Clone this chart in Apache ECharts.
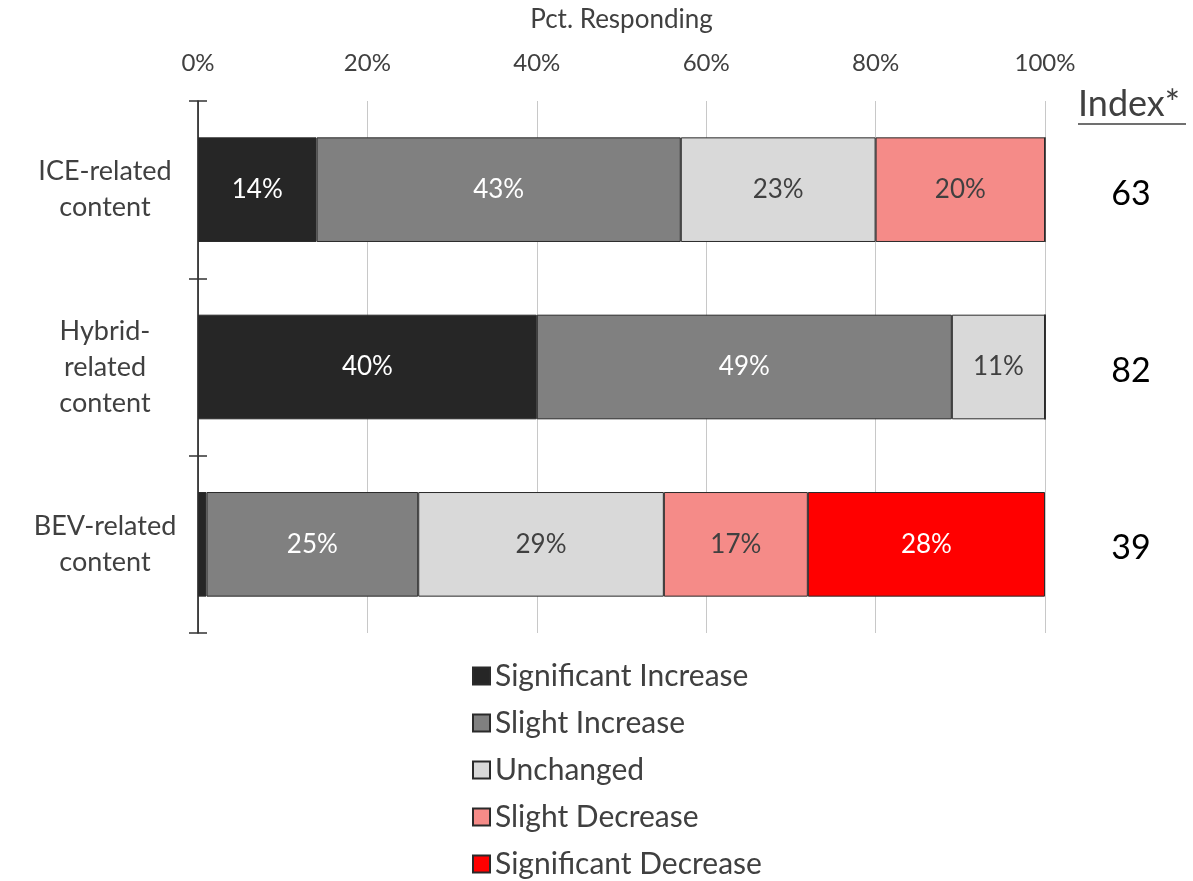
<!DOCTYPE html>
<html>
<head>
<meta charset="utf-8">
<script src="https://cdn.jsdelivr.net/npm/echarts@6/dist/echarts.min.js"></script>
<style>
  html, body { margin: 0; padding: 0; background: #fff; }
  #chart { width: 1193px; height: 881px; }
</style>
</head>
<body>
<div id="chart"></div>
<script>
// Content categories (top to bottom)
const categories = ['ICE-related\ncontent', 'Hybrid-\nrelated\ncontent', 'BEV-related\ncontent'];

// Share of respondents per answer, in percent
const significantIncrease = [14, 40, 1];
const slightIncrease      = [43, 49, 25];
const unchanged           = [23, 11, 29];
const slightDecrease      = [20, 0, 17];
const significantDecrease = [0, 0, 28];

// Index score shown to the right of each bar
const indexValues = [63, 82, 39];

// Percentage axis tick labels
const tickLabels = ['0%', '20%', '40%', '60%', '80%', '100%'];

const FONT = 'Lato';
const TEXT = '#404040';

function seg(name, values, color, labelColor) {
  return {
    name: name,
    type: 'bar',
    stack: 'total',
    barWidth: '59%',
    data: values,
    itemStyle: { color: color, borderColor: '#2a2a2a', borderWidth: 1 },
    label: {
      show: true,
      position: 'inside',
      color: labelColor,
      fontFamily: FONT,
      fontSize: 26,
      formatter: p => (p.value >= 5 ? p.value + '%' : '')
    },
    emphasis: { disabled: true }
  };
}

const chart = echarts.init(document.getElementById('chart'), null, { renderer: 'canvas' });

chart.setOption({
  animation: false,
  textStyle: { fontFamily: FONT },
  grid: { left: 198, right: 148, top: 101, bottom: 248, containLabel: false, outerBoundsMode: 'none' },
  xAxis: {
    type: 'value',
    position: 'top',
    min: 0,
    max: 100,
    interval: 20,
    name: 'Pct. Responding',
    nameLocation: 'middle',
    nameGap: 68,
    nameTextStyle: { color: TEXT, fontSize: 26, fontFamily: FONT },
    axisLine: { show: false },
    axisTick: { show: false },
    axisLabel: {
      color: TEXT, fontSize: 24, fontFamily: FONT, margin: 26,
      formatter: v => tickLabels[Math.round(v / 20)]
    },
    splitLine: { show: true, lineStyle: { color: '#c8c8c8', width: 1 } }
  },
  yAxis: [
    {
      type: 'category',
      inverse: true,
      data: categories,
      axisLine: { show: true, lineStyle: { color: '#111', width: 1.5 } },
      axisTick: { show: true, length: 9, lineStyle: { color: '#333', width: 1.5 } },
      axisLabel: {
        color: TEXT, fontSize: 27, fontFamily: FONT, lineHeight: 36,
        align: 'center', margin: 93
      }
    },
    {
      // inner half of the boundary ticks
      type: 'category',
      inverse: true,
      position: 'left',
      data: categories,
      axisLine: { show: false },
      axisTick: { show: true, inside: true, length: 9, lineStyle: { color: '#333', width: 1.5 } },
      axisLabel: { show: false }
    },
    {
      // index scores on the right
      type: 'category',
      inverse: true,
      position: 'right',
      data: indexValues.map(String),
      axisLine: { show: false },
      axisTick: { show: false },
      axisLabel: {
        color: '#000', fontSize: 34, fontFamily: FONT,
        align: 'center', margin: 86, lineHeight: 44, verticalAlign: 'top', padding: [-18, 0, 0, 0]
      }
    }
  ],
  legend: {
    orient: 'vertical',
    left: 472,
    top: 661,
    padding: 0,
    itemWidth: 17,
    itemHeight: 17,
    itemGap: 17,
    itemTextGap: 9,
    icon: 'rect',
    textStyle: { color: TEXT, fontSize: 30, fontFamily: FONT, lineHeight: 30 },
    data: ['Significant Increase', 'Slight Increase', 'Unchanged', 'Slight Decrease', 'Significant Decrease']
  },
  graphic: [
    {
      type: 'text',
      left: 1078,
      top: 86,
      style: { text: 'Index*', fill: TEXT, fontSize: 36, fontFamily: FONT }
    },
    {
      type: 'line',
      shape: { x1: 1078, y1: 124, x2: 1186, y2: 124 },
      style: { stroke: TEXT, lineWidth: 1.5 }
    }
  ],
  series: [
    seg('Significant Increase', significantIncrease, '#262626', '#ffffff'),
    seg('Slight Increase', slightIncrease, '#808080', '#ffffff'),
    seg('Unchanged', unchanged, '#d9d9d9', TEXT),
    seg('Slight Decrease', slightDecrease, '#f58b88', TEXT),
    seg('Significant Decrease', significantDecrease, '#ff0000', '#ffffff')
  ]
});
</script>
</body>
</html>
